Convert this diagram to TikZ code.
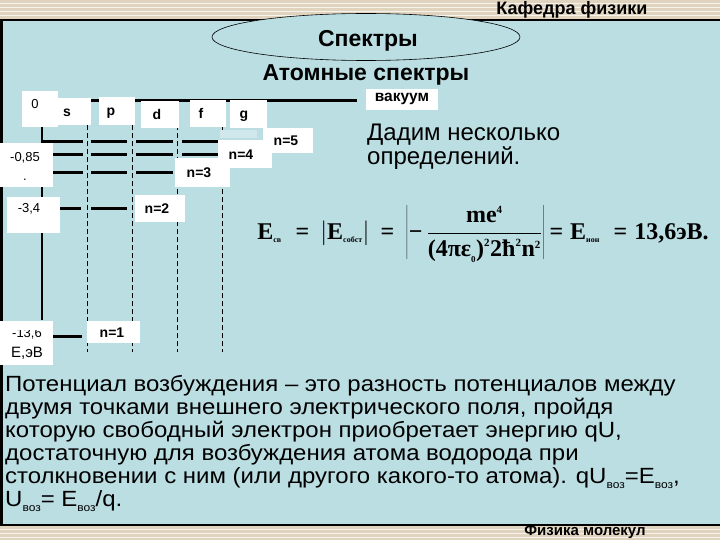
\documentclass[tikz,border=0pt]{standalone}
\usepackage{fontspec}
\setmainfont{Liberation Sans}
\newfontfamily\fserif{Liberation Serif}
\newfontfamily\parfont[FakeStretch=1.09]{Liberation Sans}
\usetikzlibrary{shapes.geometric}
\definecolor{bgblue}{RGB}{187,222,227}
\definecolor{beige}{RGB}{224,212,190}
\definecolor{lightbar}{RGB}{208,232,236}
\newcommand{\fs}[1]{\fontsize{#1}{#1}\selectfont}
\newcommand{\sub}[1]{\raisebox{-5pt}{\fontsize{11}{11}\selectfont #1}}
\tikzset{
  wbox/.style={fill=white},
  lvl/.style={line width=3pt},
  dsh/.style={line width=0.9pt, dash pattern=on 5pt off 3pt},
  lab/.style={font=\fs{14}\bfseries, inner sep=0},
  num/.style={font=\fs{13}, inner sep=0},
  pline/.style={font=\fontsize{22}{23}\parfont, anchor=base west, inner sep=0},
}
\begin{document}
\begin{tikzpicture}[x=1pt,y=-1pt]
\useasboundingbox (0,0) rectangle (720,540);
% background
\fill[bgblue] (0,0) rectangle (720,540);
\fill[beige] (0,0) rectangle (720,20);
\fill[beige] (0,525) rectangle (720,540);
\foreach \yy in {3,7,11,15} {\draw[white!70!beige, line width=0.6pt] (0,\yy) -- (720,\yy);}
\foreach \yy in {529,533,537} {\draw[white!70!beige, line width=0.6pt] (0,\yy) -- (720,\yy);}
\draw[line width=1.5pt] (0,20) -- (720,20);
\draw[line width=1.5pt] (0,525) -- (720,525);
\draw[line width=3pt] (1.5,20) -- (1.5,525);
% header texts
\node[font=\fs{18}\bfseries, inner sep=0] (kaf) at (572,10) {Кафедра физики};
\node[ellipse, draw, fill=bgblue, line width=0.6pt, minimum width=308, minimum height=47, inner sep=0] (ell) at (366,37) {};
\node[font=\fs{23}\bfseries, inner sep=0] (spek) at (368,41) {Спектры};
\node[font=\fs{23}\bfseries, inner sep=0] (atom) at (366,75) {Атомные спектры};
% diagram lines
\draw[line width=3pt] (42,101) -- (357,101);
\draw[line width=1.4pt] (42,127) -- (42,320);
\foreach \xx in {87,132,177,222} {\draw[dsh] (\xx,125) -- (\xx,352);}
\fill[lightbar] (220,130) rectangle (257,138);
% n=5
\draw[lvl] (42,142) -- (83,142);
\draw[lvl] (91,142) -- (127,142);
\draw[lvl] (136,142) -- (173,142);
\draw[lvl] (182,142) -- (218,142);
% n=4
\draw[lvl] (42,155) -- (83,155);
\draw[lvl] (91,155) -- (127,155);
\draw[lvl] (136,155) -- (173,155);
\draw[lvl] (182,155) -- (218,155);
% n=3
\draw[lvl] (42,173) -- (83,173);
\draw[lvl] (91,173) -- (127,173);
\draw[lvl] (136,173) -- (173,173);
% n=2
\draw[lvl] (42,209) -- (81,209);
\draw[lvl] (91,209) -- (127,209);
% n=1
\draw[lvl] (42,336) -- (82,336);
% white boxes
\fill[wbox] (22,91) rectangle (58,127);
\fill[wbox] (55,98) rectangle (91,125);
\fill[wbox] (99,97) rectangle (135,125);
\fill[wbox] (141,101) rectangle (179,128);
\fill[wbox] (190,100) rectangle (226,127);
\fill[wbox] (230,100) rectangle (267,128);
\fill[wbox] (366,89) rectangle (438,110);
\fill[wbox] (0,143) rectangle (53,187);
\fill[wbox] (7,197) rectangle (60,233);
\fill[wbox] (0,321) rectangle (53,365);
\fill[wbox] (263,128) rectangle (313,153);
\fill[wbox] (218,140) rectangle (272,168);
\fill[wbox] (175,158) rectangle (230,187);
\fill[wbox] (135,195) rectangle (185,222);
\fill[wbox] (87,321) rectangle (140,343);
% labels
\node[num] (z0) at (35,104) {0};
\node[lab] (ls) at (67,113) {s};
\node[lab] (lp) at (111,113) {p};
\node[lab] (ld) at (157,114) {d};
\node[lab] (lf) at (201,113) {f};
\node[lab] (lg) at (244,116) {g};
\node[font=\fs{15.5}\bfseries, inner sep=0] (vac) at (402,99) {вакуум};
\node[num] (e085) at (25,158) {-0,85};
\node[num] (dot) at (25,180) {.};
\node[num] (e34) at (29,209) {-3,4};
\begin{scope}
\clip (0,330) rectangle (60,365);
\node[num] (e136) at (27,334) {-13,6};
\end{scope}
\node[font=\fs{15}, inner sep=0] (eev) at (27,353) {E,эВ};
\node[lab] (n5) at (286,141) {n=5};
\node[lab] (n4) at (241,155) {n=4};
\node[lab] (n3) at (199,173) {n=3};
\node[lab] (n2) at (157,209) {n=2};
\node[lab] (n1) at (112,333) {n=1};
% right text
\node[font=\fs{24}, anchor=base west, inner sep=0] (dad1) at (367,141) {Дадим несколько};
\node[font=\fs{24}, anchor=base west, inner sep=0] (dad2) at (367,165) {определений.};
% formula
\node[inner sep=0] (formula) at (483,234) {\fs{24}\fserif\bfseries
  $\displaystyle
  \mbox{E}_{\mbox{\fs{8}св}}\;\;\mbox{=}\;\left|\mbox{E}_{\mbox{\fs{8}собст}}\right|\;\mbox{=}\;
  \left|\mbox{−}\,\frac{\mbox{me}^{\mbox{\fs{11}4}}}{\mbox{(4πε}_{\mbox{\fs{9}0}}\mbox{)}^{\mbox{\fs{11}2}}\mbox{2ħ}^{\mbox{\fs{11}2}}\mbox{n}^{\mbox{\fs{11}2}}}\right|
  \mbox{=}\;\mbox{E}_{\mbox{\fs{8}ион}}\;\;\mbox{=}\;\mbox{13,6эВ.}$};
% bottom paragraph
\node[pline] (p1) at (5,391) {Потенциал возбуждения – это разность потенциалов между};
\node[pline] (p2) at (5,414) {двумя точками внешнего электрического поля, пройдя};
\node[pline] (p3) at (5,437) {которую свободный электрон приобретает энергию qU,};
\node[pline] (p4) at (5,460) {достаточную для возбуждения атома водорода при};
\node[pline] (p5) at (5,483) {столкновении с ним (или другого какого-то атома). qU\sub{воз}=E\sub{воз},};
\node[pline] (p6) at (5,506) {U\sub{воз}= E\sub{воз}/q.};
\node[font=\fs{15}\bfseries, inner sep=0] (foot) at (585,532) {Физика молекул};
\end{tikzpicture}
\end{document}
